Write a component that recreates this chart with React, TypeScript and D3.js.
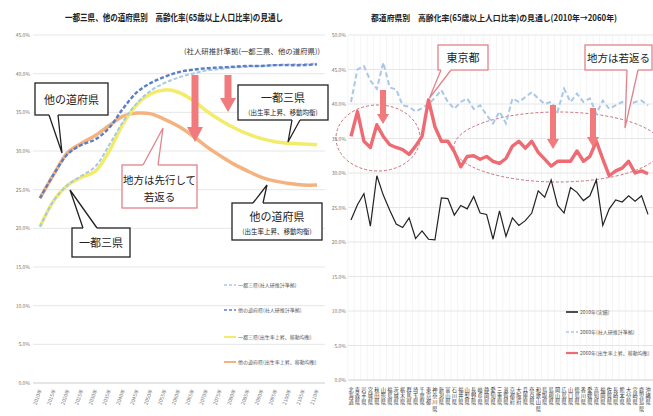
import React from "react";
import * as d3 from "d3";

// ---------- Left chart data ----------
const LEFT_YEARS = [2010, 2015, 2020, 2025, 2030, 2035, 2040, 2045, 2050, 2055, 2060, 2065, 2070, 2075, 2080, 2085, 2090, 2095, 2100, 2105, 2110];
const LEFT_Y_TICKS = [0, 5, 10, 15, 20, 25, 30, 35, 40, 45];
const metroIpss = [20.2, 23.6, 25.6, 26.8, 28.0, 30.8, 33.8, 36.2, 37.8, 38.8, 39.5, 40.0, 40.4, 40.6, 40.8, 40.9, 41.0, 41.1, 41.2, 41.2, 41.3];
const otherIpss = [23.9, 27.0, 29.6, 30.8, 31.5, 33.0, 35.5, 37.6, 38.8, 39.6, 40.2, 40.5, 40.7, 40.8, 40.9, 41.0, 41.0, 41.1, 41.1, 41.1, 41.2];
const metroRecovery = [20.2, 23.6, 25.6, 26.6, 27.4, 30.0, 33.5, 36.0, 37.4, 37.9, 37.6, 36.6, 35.2, 34.0, 33.0, 32.2, 31.6, 31.2, 31.0, 30.9, 30.8];
const otherRecovery = [23.9, 27.0, 29.8, 31.0, 32.0, 33.3, 34.5, 34.9, 34.8, 34.1, 33.2, 32.0, 30.6, 29.4, 28.3, 27.4, 26.6, 26.1, 25.8, 25.6, 25.6];
const LEFT_LEGEND = ["一都三県(社人研推計準拠)", "他の道府県(社人研推計準拠)", "一都三県(出生率上昇、移動均衡)", "他の道府県(出生率上昇、移動均衡)"];

// ---------- Right chart data ----------
const PREFS = ["北海道", "青森県", "岩手県", "宮城県", "秋田県", "山形県", "福島県", "茨城県", "栃木県", "群馬県", "埼玉県", "千葉県", "東京都", "神奈川県", "新潟県", "富山県", "石川県", "福井県", "山梨県", "長野県", "岐阜県", "静岡県", "愛知県", "三重県", "滋賀県", "京都府", "大阪府", "兵庫県", "奈良県", "和歌山県", "鳥取県", "島根県", "岡山県", "広島県", "山口県", "徳島県", "香川県", "愛媛県", "高知県", "福岡県", "佐賀県", "長崎県", "熊本県", "大分県", "宮崎県", "鹿児島県", "沖縄県"];
const RIGHT_Y_TICKS = [0, 5, 10, 15, 20, 25, 30, 35, 40, 45, 50];
const actual2010 = [23.2, 25.4, 27.0, 22.3, 29.6, 26.8, 24.6, 22.6, 22.1, 23.5, 20.5, 21.6, 20.4, 20.3, 26.4, 26.3, 23.9, 25.3, 24.8, 26.6, 24.2, 24.0, 20.4, 24.5, 20.8, 23.5, 22.4, 23.1, 24.2, 27.4, 26.5, 29.0, 25.3, 24.2, 27.9, 27.2, 26.0, 26.7, 29.0, 22.4, 24.8, 26.1, 25.8, 26.7, 25.9, 26.7, 24.0];
const ipss2060 = [40.3, 45.0, 45.5, 43.4, 42.2, 46.0, 42.4, 42.1, 39.8, 39.6, 38.9, 39.4, 40.0, 40.9, 42.0, 40.3, 39.3, 40.3, 40.8, 39.3, 39.8, 38.4, 37.2, 38.9, 37.2, 40.8, 40.3, 41.0, 41.7, 40.8, 40.0, 40.3, 38.9, 42.2, 40.3, 41.5, 40.3, 40.8, 38.6, 40.5, 39.3, 39.8, 40.3, 39.8, 40.3, 40.5, 39.8];
const recovery2060 = [35.3, 38.9, 34.6, 33.7, 37.0, 35.3, 34.1, 33.7, 33.4, 32.7, 33.9, 35.3, 40.6, 36.7, 34.6, 34.6, 33.1, 30.9, 32.4, 32.5, 32.0, 32.4, 31.7, 31.4, 32.1, 33.9, 34.6, 33.6, 34.6, 33.0, 32.0, 31.0, 31.7, 31.7, 31.7, 33.2, 31.7, 32.4, 34.6, 32.0, 29.6, 30.3, 30.7, 31.7, 30.0, 30.3, 29.9];
const RIGHT_LEGEND = ["2010年(実績)", "2060年(社人研推計準拠)", "2060年(出生率上昇、移動均衡)"];

const FONT = "'Noto Sans CJK JP', 'Noto Sans', sans-serif";
const PINK = "#e2838a";
const ARROW = "#f07a7c";

function Callout({ x, y, w, h, tail, stroke, sw = 1.3, children }: any) {
  const [b1x, b1y, tx, ty, b2x, b2y] = tail;
  return (
    <g>
      <rect x={x} y={y} width={w} height={h} fill="#fff" stroke={stroke} strokeWidth={sw} />
      <polygon points={`${b1x},${b1y} ${tx},${ty} ${b2x},${b2y}`} fill="#fff" />
      <line x1={b1x} y1={b1y} x2={b2x} y2={b2y} stroke="#fff" strokeWidth={sw + 1} />
      <polyline points={`${b1x},${b1y} ${tx},${ty} ${b2x},${b2y}`} fill="none" stroke={stroke} strokeWidth={sw} />
      {children}
    </g>
  );
}

function DownArrow({ x, top, bottom, shaft, head, headLen }: any) {
  const p = [
    [x - shaft / 2, top], [x + shaft / 2, top], [x + shaft / 2, bottom - headLen],
    [x + head / 2, bottom - headLen], [x, bottom], [x - head / 2, bottom - headLen],
    [x - shaft / 2, bottom - headLen],
  ].map((q) => q.join(",")).join(" ");
  return <polygon points={p} fill={ARROW} />;
}

export default function App() {
  React.useEffect(() => {
    document.body.style.margin = "0";
  }, []);

  // Left scales
  const lx = d3.scalePoint<number>().domain(LEFT_YEARS).range([40, 317]);
  const ly = d3.scaleLinear().domain([0, 45]).range([383, 35]);
  const lline = d3.line<number>().x((_, i) => lx(LEFT_YEARS[i]) as number).y((d) => ly(d)).curve(d3.curveCatmullRom);

  // Right scales
  const rx = d3.scalePoint<string>().domain(PREFS).range([351, 648]);
  const ry = d3.scaleLinear().domain([0, 50]).range([380, 35]);
  const rline = d3.line<number>().x((_, i) => rx(PREFS[i]) as number).y((d) => ry(d));
  const step = rx.step();
  const tokyoX = rx("東京都") as number;

  return (
    <svg width={653} height={416} style={{ position: "absolute", left: 0, top: 0, display: "block", background: "#fff" }} fontFamily={FONT}>
      <defs>
        <clipPath id="clipAll"><rect x={0} y={0} width={653} height={416} /></clipPath>
      </defs>
      {/* ---------------- LEFT CHART ---------------- */}
      <text x={174} y={21} textAnchor="middle" fontSize={9.5} fontWeight="bold" fill="#222" textLength={218} lengthAdjust="spacingAndGlyphs">
        一都三県、他の道府県別　高齢化率(65歳以上人口比率)の見通し
      </text>
      {LEFT_Y_TICKS.map((t) => (
        <g key={"lg" + t}>
          <line x1={33} x2={325} y1={ly(t)} y2={ly(t)} stroke={t === 0 ? "#ccc" : "#e6e6e6"} strokeWidth={1} />
          <text x={30} y={ly(t) + 2} textAnchor="end" fontSize={5} fill="#777">{t}.0%</text>
        </g>
      ))}
      {LEFT_YEARS.map((yr) => (
        <text key={"lx" + yr} transform={`translate(${(lx(yr) as number) + 2},${390}) rotate(-70)`} textAnchor="end" fontSize={5} fill="#777">
          {yr}年
        </text>
      ))}
      <path d={lline(otherRecovery) as string} fill="none" stroke="#f5b27f" strokeWidth={3.5} />
      <path d={lline(metroRecovery) as string} fill="none" stroke="#f3ec6a" strokeWidth={3.5} />
      <path d={lline(metroIpss) as string} fill="none" stroke="#a9c8e8" strokeWidth={2} strokeDasharray="4,2" />
      <path d={lline(otherIpss) as string} fill="none" stroke="#5a7fc6" strokeWidth={2.4} strokeDasharray="4,2" />

      <text x={252} y={54} textAnchor="middle" fontSize={7} fill="#333" textLength={136} lengthAdjust="spacingAndGlyphs">(社人研推計準拠(一都三県、他の道府県))</text>

      <DownArrow x={195} top={75} bottom={142} shaft={7} head={16} headLen={15} />
      <DownArrow x={228} top={75} bottom={112} shaft={7} head={16} headLen={14} />

      <Callout x={35} y={83} w={73} h={32} tail={[49, 115, 62, 153, 58, 115]} stroke="#222">
        <text x={71.5} y={104} textAnchor="middle" fontSize={11} fill="#222">他の道府県</text>
      </Callout>
      <Callout x={238} y={85} w={90} h={35} tail={[292, 120, 288, 142, 300, 120]} stroke="#222">
        <text x={283} y={102} textAnchor="middle" fontSize={11} fill="#222">一都三県</text>
        <text x={283} y={115} textAnchor="middle" fontSize={6.5} fill="#222">(出生率上昇、移動均衡)</text>
      </Callout>
      <Callout x={122} y={165} w={75} h={43} tail={[143, 165, 163, 128, 158, 165]} stroke={PINK}>
        <text x={159.5} y={184} textAnchor="middle" fontSize={10.5} fill="#222">地方は先行して</text>
        <text x={159.5} y={201} textAnchor="middle" fontSize={10.5} fill="#222">若返る</text>
      </Callout>
      <Callout x={232} y={203} w={90} h={37} tail={[253, 203, 267, 185, 263, 203]} stroke="#222">
        <text x={277} y={221} textAnchor="middle" fontSize={11} fill="#222">他の道府県</text>
        <text x={277} y={234} textAnchor="middle" fontSize={6.5} fill="#222">(出生率上昇、移動均衡)</text>
      </Callout>
      <Callout x={72} y={228} w={58} h={29} tail={[83, 228, 70, 190, 97, 228]} stroke="#222">
        <text x={101} y={247} textAnchor="middle" fontSize={11} fill="#222">一都三県</text>
      </Callout>

      {LEFT_LEGEND.map((name, i) => {
        const yy = [285, 310, 337, 362][i];
        const styles = [
          { stroke: "#a9c8e8", dash: "3,2", w: 1.6 },
          { stroke: "#5a7fc6", dash: "3,2", w: 1.6 },
          { stroke: "#f3ec6a", dash: "", w: 2 },
          { stroke: "#f5b27f", dash: "", w: 2 },
        ][i];
        return (
          <g key={"ll" + i}>
            <line x1={224} x2={236} y1={yy} y2={yy} stroke={styles.stroke} strokeWidth={styles.w} strokeDasharray={styles.dash} />
            <text x={238} y={yy + 2} fontSize={5} fill="#555">{name}</text>
          </g>
        );
      })}

      {/* ---------------- RIGHT CHART ---------------- */}
      <text x={494} y={21} textAnchor="middle" fontSize={8.5} fontWeight="bold" fill="#222" textLength={246} lengthAdjust="spacingAndGlyphs">
        都道府県別　高齢化率(65歳以上人口比率)の見通し(2010年→2060年)
      </text>
      <g clipPath="url(#clipAll)">
        {PREFS.map((p, i) => (
          <line key={"vg" + i} x1={(rx(p) as number) - step / 2} x2={(rx(p) as number) - step / 2} y1={35} y2={380} stroke="#f1f1f1" strokeWidth={0.8} />
        ))}
        {RIGHT_Y_TICKS.map((t) => (
          <g key={"rg" + t}>
            <line x1={348} x2={653} y1={ry(t)} y2={ry(t)} stroke={t === 0 ? "#ccc" : "#e6e6e6"} strokeWidth={1} />
            <text x={346} y={ry(t) + 2} textAnchor="end" fontSize={5} fill="#777">{t.toFixed(1)}%</text>
          </g>
        ))}
        {PREFS.map((p) => (
          <text key={"px" + p} x={rx(p) as number} y={392} textAnchor="middle" fontSize={5.2} fill="#333">
            {Array.from(p).map((ch, k) => (
              <tspan key={k} x={rx(p) as number} y={392 + k * 6.2}>{ch}</tspan>
            ))}
          </text>
        ))}

        <ellipse cx={378} cy={138} rx={42} ry={33} fill="none" stroke="#c9707a" strokeWidth={1} strokeDasharray="3,2" />
        <ellipse cx={558} cy={147} rx={104} ry={35} fill="none" stroke="#c9707a" strokeWidth={1} strokeDasharray="3,2" />

        <path d={rline(actual2010) as string} fill="none" stroke="#222" strokeWidth={1.2} />
        <path d={rline(ipss2060) as string} fill="none" stroke="#a9c8e8" strokeWidth={2} strokeDasharray="5,3" />
        <path d={rline(recovery2060) as string} fill="none" stroke="#ee6b74" strokeWidth={3.4} strokeLinejoin="round" />

        <DownArrow x={383} top={90} bottom={124} shaft={6} head={12} headLen={10} />
        <DownArrow x={553} top={105} bottom={149} shaft={6} head={12} headLen={10} />
        <DownArrow x={593} top={108} bottom={147} shaft={6} head={12} headLen={10} />

        <Callout x={438} y={45} w={50} h={25} tail={[441, 70, tokyoX + 1, 98, 451, 70]} stroke={PINK}>
          <text x={463} y={62} textAnchor="middle" fontSize={11} fill="#222">東京都</text>
        </Callout>
        <Callout x={585} y={45} w={67} h={25} tail={[627, 70, 625, 128, 638, 70]} stroke={PINK}>
          <text x={618.5} y={62} textAnchor="middle" fontSize={10.5} fill="#222">地方は若返る</text>
        </Callout>

        {RIGHT_LEGEND.map((name, i) => {
          const yy = [312, 332, 353][i];
          const st = [
            { stroke: "#222", dash: "", w: 1.6 },
            { stroke: "#a9c8e8", dash: "3,2", w: 1.6 },
            { stroke: "#ee6b74", dash: "", w: 2.2 },
          ][i];
          return (
            <g key={"rl" + i}>
              <line x1={566} x2={578} y1={yy} y2={yy} stroke={st.stroke} strokeWidth={st.w} strokeDasharray={st.dash} />
              <text x={580} y={yy + 2} fontSize={5} fill="#555">{name}</text>
            </g>
          );
        })}
      </g>
    </svg>
  );
}
